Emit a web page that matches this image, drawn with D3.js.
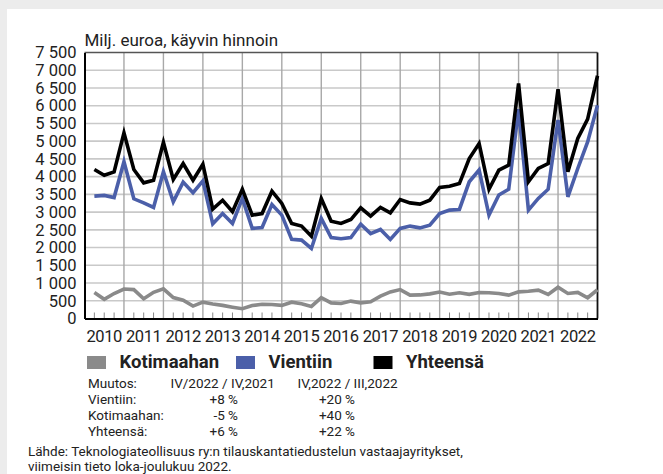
<!DOCTYPE html>
<html>
<head>
<meta charset="utf-8">
<script src="https://cdn.jsdelivr.net/npm/d3@7"></script>
<style>
  html, body { margin: 0; padding: 0; background: #ececec; }
  svg { display: block; }
  text { font-family: Roboto, "Liberation Sans", sans-serif; fill: #222; }
</style>
</head>
<body>
<svg id="chart" width="663" height="474"></svg>
<script>
// vuodet (kategoria-akseli)
const years = ['2010','2011','2012','2013','2014','2015','2016','2017','2018','2019','2020','2021','2022'];

// neljännesvuosiarvot, milj. euroa (2010 Q1 ... 2022 Q4)
const kotimaahan = [730,540,705,830, 815,555,740,835, 590,515,350,460, 410,370,320,275,
                    365,400,395,370, 460,415,340,590, 440,425,490,440, 470,630,750,815,
                    660,665,695,745, 685,725,680,735, 725,705,660,750, 770,800,680,880,
                    705,735,585,810];
const vientiin = [3450,3470,3410,4420, 3375,3260,3130,4140, 3290,3845,3545,3880, 2670,2960,2680,3385,
                  2540,2565,3215,2915, 2230,2210,1975,2820, 2285,2250,2285,2660, 2395,2510,2230,2540,
                  2605,2555,2630,2960, 3055,3075,3855,4185, 2915,3480,3645,5900, 3055,3385,3645,5595,
                  3430,4230,4980,6015];
const yhteensa = [4200,4040,4135,5235, 4200,3825,3900,4965, 3920,4370,3900,4350, 3085,3335,3010,3645,
                  2915,2960,3590,3245, 2680,2605,2320,3385, 2745,2680,2790,3120, 2885,3130,2980,3355,
                  3260,3225,3335,3695, 3730,3805,4510,4935, 3645,4185,4325,6630, 3855,4230,4370,6465,
                  4135,5075,5620,6845];

const yTicks = [0,500,1000,1500,2000,2500,3000,3500,4000,4500,5000,5500,6000,6500,7000,7500];

const seriesNames = ['Kotimaahan', 'Vientiin', 'Yhteensä'];
const seriesColors = ['#8a8a8a', '#4b5fa9', '#000000'];

// muutostaulukko
const tableHeader = ['Muutos:', 'IV/2022 / IV,2021', 'IV,2022 / III,2022'];
const tableRows = ['Vientiin:', 'Kotimaahan:', 'Yhteensä:'];
const changeYear = ['+8 %', '-5 %', '+6 %'];
const changeQuarter = ['+20 %', '+40 %', '+22 %'];

const sourceLines = ['Lähde: Teknologiateollisuus ry:n tilauskantatiedustelun vastaajayritykset,',
                     'viimeisin tieto loka-joulukuu 2022.'];

const plot = {left: 84.5, right: 597.5, top: 52.5, bottom: 318.5};

const svg = d3.select('#chart');

// valkoinen pohja
svg.append('rect').attr('x', 7).attr('y', 9).attr('width', 663 - 7).attr('height', 474 - 9).attr('fill', '#fff');

// asteikot
const x = d3.scaleLinear().domain([-1, vientiin.length - 1]).range([plot.left, plot.right]);
const xYear = d3.scaleBand().domain(years).range([plot.left, plot.right]);
const y = d3.scaleLinear().domain([0, 7500]).range([plot.bottom, plot.top]);

// vaakaviivat
svg.append('g')
	.selectAll('line')
	.data(yTicks.slice(1, -1))
	.enter().append('line')
		.attr('x1', plot.left).attr('x2', plot.right)
		.attr('y1', d => y(d)).attr('y2', d => y(d))
		.attr('stroke', '#c9c9c9').attr('stroke-width', 1.6);

// pystyviivat vuosien välissä
const yearLines = d3.range(3, vientiin.length - 1, 4);
svg.append('g')
	.selectAll('line')
	.data(yearLines)
	.enter().append('line')
		.attr('x1', d => x(d)).attr('x2', d => x(d))
		.attr('y1', plot.top).attr('y2', plot.bottom)
		.attr('stroke', '#a8a8a8').attr('stroke-width', 1.4);

// pienet neljännesvuosimerkit
const quarterTicks = d3.range(0, vientiin.length - 1).filter(i => i % 4 !== 3);
svg.append('g')
	.selectAll('line')
	.data(quarterTicks)
	.enter().append('line')
		.attr('x1', d => x(d)).attr('x2', d => x(d))
		.attr('y1', plot.bottom - 6).attr('y2', plot.bottom)
		.attr('stroke', '#888').attr('stroke-width', 1);

// kehys
svg.append('line').attr('x1', plot.left).attr('x2', plot.right).attr('y1', plot.top).attr('y2', plot.top)
	.attr('stroke', '#555').attr('stroke-width', 1.6);
svg.append('line').attr('x1', plot.right).attr('x2', plot.right).attr('y1', plot.top).attr('y2', plot.bottom)
	.attr('stroke', '#111').attr('stroke-width', 1.8);

// y-akseli, tuhaterotin välilyönnillä
const yAxis = d3.axisLeft(y).tickValues(yTicks).tickSize(0).tickPadding(8)
	.tickFormat(d => d3.format(',')(d).replace(',', ' '));
const gy = svg.append('g').attr('transform', 'translate(' + plot.left + ',0)').call(yAxis);
gy.select('.domain').attr('stroke', '#000').attr('stroke-width', 2);
gy.selectAll('text').attr('font-size', 16.5).attr('fill', '#222').style('font-family', 'Roboto');

// x-akseli (vuodet)
const xAxis = d3.axisBottom(xYear).tickSize(0).tickPadding(8);
const gx = svg.append('g').attr('transform', 'translate(0,' + plot.bottom + ')').call(xAxis);
gx.select('.domain').attr('stroke', '#000').attr('stroke-width', 2);
gx.selectAll('text').attr('font-size', 16.5).attr('fill', '#222').style('font-family', 'Roboto')
	.attr('dy', '0.95em').attr('letter-spacing', -0.4);

// otsikko
svg.append('text').attr('x', plot.left).attr('y', 45.5).attr('font-size', 17).text('Milj. euroa, käyvin hinnoin');

// viivat
const line = d3.line().x((d, i) => x(i)).y(d => y(d));
[kotimaahan, vientiin, yhteensa].forEach(function(data, k) {
	svg.append('path')
		.datum(data)
		.attr('d', line)
		.attr('fill', 'none')
		.attr('stroke', seriesColors[k])
		.attr('stroke-width', 3.6)
		.attr('stroke-linejoin', 'miter');
});

// selite
const legendX = [87, 236, 373.5];
const legend = svg.append('g').selectAll('g')
	.data(seriesNames)
	.enter().append('g')
		.attr('transform', (d, i) => 'translate(' + legendX[i] + ',356)');
legend.append('rect').attr('width', 19).attr('height', 13).attr('fill', (d, i) => seriesColors[i]);
legend.append('text').attr('x', 32.5).attr('y', 12).attr('font-size', 18.5).attr('font-weight', 'bold')
	.text(d => d);

// muutostaulukko
const table = svg.append('g').attr('font-size', 13.5);
table.append('text').attr('x', 88).attr('y', 388).text(tableHeader[0]);
table.append('text').attr('x', 170.5).attr('y', 388).text(tableHeader[1]);
table.append('text').attr('x', 297.5).attr('y', 388).text(tableHeader[2]);
tableRows.forEach(function(label, i) {
	const ty = 404 + i * 15.8;
	table.append('text').attr('x', 88).attr('y', ty).text(label);
	table.append('text').attr('x', 238).attr('y', ty).attr('text-anchor', 'end').text(changeYear[i]);
	table.append('text').attr('x', 355).attr('y', ty).attr('text-anchor', 'end').text(changeQuarter[i]);
});

// lähde
sourceLines.forEach(function(s, i) {
	svg.append('text').attr('x', 28).attr('y', 455.5 + i * 15.5).attr('font-size', 13.5).attr('fill', '#333').text(s);
});
</script>
</body>
</html>
